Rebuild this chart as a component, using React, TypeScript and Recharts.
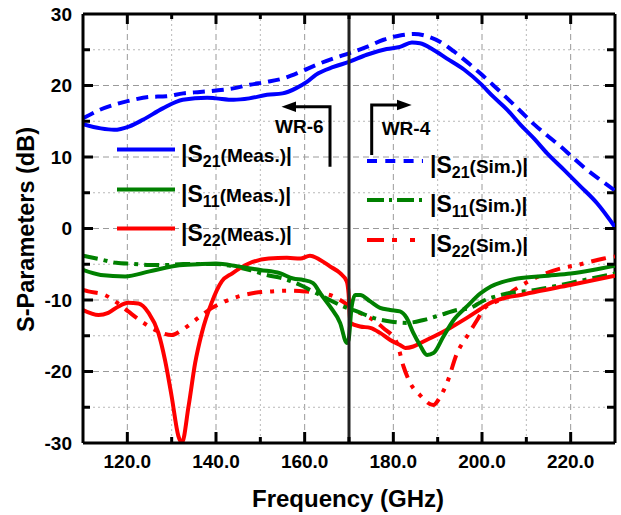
import React from 'react';
import { LineChart, Line, XAxis, YAxis, CartesianGrid, ReferenceLine, ReferenceDot } from 'recharts';

const FONT = '"Liberation Sans", Arial, Helvetica, sans-serif';

// ---- data (frequency in GHz, values in dB) ----
const s21MeasF = [110, 114, 117, 120.5, 123.5, 128, 132.5, 138, 140, 144, 147.5, 151.5, 155, 158, 160.5, 162.5, 166.5, 170, 174, 178.5, 181.5, 184.2, 186, 189, 192, 196, 199.6, 202.6, 205.7, 208.7, 211.7, 214.7, 218.5, 222.2, 226, 230];
const s21MeasDb = [14.6, 14.0, 13.8, 14.3, 15.2, 16.8, 18.0, 18.3, 18.2, 18.0, 18.2, 18.7, 18.9, 19.6, 20.5, 21.5, 22.6, 23.3, 24.3, 25.1, 25.4, 26.0, 25.9, 25.0, 23.8, 22.2, 20.3, 18.4, 16.6, 14.5, 12.6, 10.5, 8.2, 5.9, 3.5, 0.2];

const s21SimF = [110, 113.8, 117.5, 121.3, 125, 128.8, 132.6, 136.4, 140.1, 143.9, 147.6, 151.4, 155.2, 159, 162.7, 166.5, 170, 174, 177.8, 181.5, 184.7, 187.6, 190.6, 193.6, 196.6, 199.6, 202.6, 205.7, 208.7, 211.7, 214.7, 217.7, 220.7, 223.7, 226.7, 230];
const s21SimDb = [15.4, 16.6, 17.4, 18.0, 18.4, 18.5, 18.9, 19.1, 19.3, 19.6, 20.1, 20.5, 21.0, 21.9, 22.9, 23.8, 24.5, 25.4, 26.4, 27.0, 27.2, 26.9, 26.1, 24.8, 23.3, 21.7, 20.0, 18.2, 16.4, 14.6, 13.0, 11.5, 9.8, 8.2, 6.8, 5.3];

const s11MeasF = [110, 114, 119.5, 125, 131, 136, 140, 145, 150, 154.4, 157.4, 159.7, 161.9, 163.5, 165.7, 168, 169.5, 169.9, 170.6, 171.4, 172.5, 174.8, 177, 179.3, 181.5, 183, 184.5, 186, 187.6, 189.1, 191.3, 193.6, 196.6, 199.6, 202, 204.5, 208, 215, 220, 225, 230];
const s11MeasDb = [-5.8, -6.5, -6.7, -6.0, -5.2, -5.0, -4.9, -5.3, -5.8, -6.25, -7.0, -7.2, -7.65, -9.05, -10.9, -13.2, -16.0, -15.6, -10.9, -9.3, -9.3, -10.2, -11.1, -11.4, -11.6, -12.5, -14.6, -16.3, -17.7, -17.4, -15.1, -12.8, -10.9, -9.1, -8.1, -7.5, -7.0, -6.6, -6.3, -5.8, -5.2];

const s11SimF = [110, 113.8, 117.5, 121.3, 125, 128.8, 132.6, 136.4, 140.1, 143.9, 147.6, 151.4, 155.2, 159, 161.9, 164.9, 168.7, 171.8, 175.5, 179.3, 183, 186.8, 190.6, 194.4, 197.4, 200, 205, 212, 220, 230];
const s11SimDb = [-3.8, -4.3, -4.8, -4.95, -5.1, -5.1, -4.95, -4.95, -4.95, -5.3, -5.8, -6.5, -7.0, -7.9, -8.8, -9.75, -10.9, -11.6, -12.5, -13.0, -13.2, -12.8, -12.1, -11.4, -11.1, -10.2, -9.2, -8.6, -7.6, -6.3];

const s22MeasF = [110, 113.5, 115.7, 118, 120.2, 122.5, 124.8, 127, 128.5, 130, 131.5, 132.3, 133.8, 135.3, 136.8, 139, 141.3, 143.6, 147.4, 151.9, 156, 159, 161.2, 163.5, 165.7, 168, 169.5, 169.9, 170.3, 172.5, 174.8, 177, 179.3, 181.5, 182.7, 184.5, 186.8, 189.8, 192.8, 196.6, 199.6, 201.9, 204.9, 208.7, 212.4, 219.9, 230];
const s22MeasDb = [-11.4, -12.1, -11.8, -10.9, -10.4, -10.5, -11.8, -14.6, -18.4, -23.5, -29, -30, -24.9, -18.8, -14.6, -10.4, -7.4, -6.3, -4.9, -4.2, -4.1, -4.2, -3.8, -4.4, -5.3, -6.25, -7.4, -9.05, -13.2, -13.7, -13.9, -14.6, -15.6, -16.3, -16.7, -16.5, -15.8, -14.9, -13.9, -12.5, -11.3, -10.4, -9.75, -9.3, -8.8, -7.9, -6.6];

const s22SimF = [110, 111.2, 114.9, 117.5, 120.2, 123.2, 127, 130, 132.3, 136, 139.1, 142, 145.1, 148.8, 152.6, 156, 160, 165.7, 168, 171.8, 175.5, 177.7, 180.8, 182.3, 183.8, 186, 189, 190.6, 192.1, 194.4, 196.6, 198.9, 200.5, 204, 208, 213.5, 217.7, 221.5, 227.5, 230];
const s22SimDb = [-8.6, -8.8, -9.3, -10.3, -11.6, -13.0, -14.4, -14.9, -14.2, -12.5, -11.1, -10.2, -9.5, -9.0, -8.8, -8.7, -8.8, -9.3, -10.0, -11.6, -12.8, -13.9, -16.0, -19.3, -21.6, -23.3, -24.7, -23.5, -21.6, -17.4, -15.1, -12.8, -11.2, -10.0, -8.3, -6.5, -5.6, -5.1, -4.2, -3.9];

const xTicks = [120, 130, 140, 150, 160, 170, 180, 190, 200, 210, 220];
const yTicks = [-30, -25, -20, -15, -10, -5, 0, 5, 10, 15, 20, 25, 30];
const xMajorGrid = [120, 140, 160, 180, 200, 220];
const xMinorGrid = [130, 150, 190, 210];
const yMajorGrid = [-20, -10, 0, 10, 20];
const yMinorGrid = [-25, -15, -5, 5, 15, 25];
const yInnerTicks = [-25, -20, -15, -10, -5, 0, 5, 10, 15, 20, 25];

const zip = (f: number[], v: number[]) => f.map((x, i) => ({ f: x, v: v[i] }));
const s21Meas = zip(s21MeasF, s21MeasDb);
const s21Sim = zip(s21SimF, s21SimDb);
const s11Meas = zip(s11MeasF, s11MeasDb);
const s11Sim = zip(s11SimF, s11SimDb);
const s22Meas = zip(s22MeasF, s22MeasDb);
const s22Sim = zip(s22SimF, s22SimDb);

const BLUE = '#0000ff';
const GREEN = '#008000';
const RED = '#ff0000';
const DASH = '12 7';
const DASHDOT = '15 6 4 6';
const DASHDOTDOT = '15 8 4 8 4 8';

const BottomTick = (props: any) => {
  const { x, y, payload } = props;
  const v = payload.value;
  const major = v % 20 === 0;
  return (
    <g>
      <line x1={x} x2={x} y1={y} y2={y - (major ? 11 : 6)} stroke="#000" strokeWidth={3} />
      {major && (
        <text x={x} y={y + 25} textAnchor="middle" fontSize={19} fontWeight="bold" fill="#000" fontFamily={FONT}>
          {v.toFixed(1)}
        </text>
      )}
    </g>
  );
};

const LeftTick = (props: any) => {
  const { x, y, payload } = props;
  const v = payload.value;
  const major = v % 10 === 0;
  return (
    <g>
      {Math.abs(v) < 30 && <line x1={x} x2={x + (major ? 10 : 7)} y1={y} y2={y} stroke="#000" strokeWidth={3} />}
      {major && (
        <text x={x - 11} y={y} dy="0.36em" textAnchor="end" fontSize={19} fontWeight="bold" fill="#000" fontFamily={FONT}>
          {v}
        </text>
      )}
    </g>
  );
};

const TopTickShape = (major: boolean) => (p: any) => (
  <line x1={p.cx} x2={p.cx} y1={p.cy} y2={p.cy + (major ? 10 : 5)} stroke="#000" strokeWidth={3} />
);
const RightTickShape = (major: boolean) => (p: any) => (
  <line x1={p.cx} x2={p.cx - (major ? 10 : 8)} y1={p.cy} y2={p.cy} stroke="#000" strokeWidth={3} />
);

const LegendLabel = ({ x, y, sub, tag }: { x: number; y: number; sub: string; tag: string }) => (
  <text x={x} y={y} fontFamily={FONT} fontWeight="bold" fill="#000">
    <tspan fontSize={23}>|S</tspan>
    <tspan fontSize={16} dy={5}>{sub}</tspan>
    <tspan fontSize={19} dy={-5}>{`(${tag})`}</tspan>
    <tspan fontSize={21}>|</tspan>
  </text>
);

export default function App() {
  return (
    <div style={{ position: 'relative', width: 621, height: 515, background: '#fff' }}>
      <style>{`body{margin:0;}`}</style>
      <LineChart width={621} height={515} margin={{ top: 14, right: 6, bottom: 0, left: 0 }}>
        <CartesianGrid stroke="#9a9a9a" strokeDasharray="6 4" horizontalValues={yMajorGrid} verticalValues={xMajorGrid} />
        <CartesianGrid stroke="#b8b8b8" strokeDasharray="2 3" horizontalValues={yMinorGrid} verticalValues={xMinorGrid} />
        <XAxis
          type="number"
          dataKey="f"
          domain={[110, 230]}
          ticks={xTicks}
          interval={0}
          allowDataOverflow
          height={72}
          tickSize={0}
          tickMargin={0}
          tickLine={false}
          axisLine={{ stroke: '#000', strokeWidth: 3 }}
          tick={<BottomTick />}
        />
        <YAxis
          type="number"
          domain={[-30, 30]}
          ticks={yTicks}
          interval={0}
          allowDataOverflow
          width={83}
          tickSize={0}
          tickMargin={0}
          tickLine={false}
          axisLine={{ stroke: '#000', strokeWidth: 3 }}
          tick={<LeftTick />}
        />
        <ReferenceLine y={30} stroke="#000" strokeWidth={3} />
        <ReferenceLine x={230} stroke="#000" strokeWidth={3} />
        {xTicks.map((t) => (
          <ReferenceDot key={'tt' + t} x={t} y={30} ifOverflow="visible" shape={TopTickShape(t % 20 === 0)} />
        ))}
        {yInnerTicks.map((t) => (
          <ReferenceDot key={'rt' + t} x={230} y={t} ifOverflow="visible" shape={RightTickShape(t % 10 === 0)} />
        ))}
        <Line data={s22Sim} dataKey="v" type="monotone" stroke={RED} strokeWidth={4} strokeDasharray={DASHDOTDOT} dot={false} isAnimationActive={false} />
        <Line data={s11Sim} dataKey="v" type="monotone" stroke={GREEN} strokeWidth={4} strokeDasharray={DASHDOT} dot={false} isAnimationActive={false} />
        <Line data={s22Meas} dataKey="v" type="monotone" stroke={RED} strokeWidth={4} dot={false} isAnimationActive={false} />
        <Line data={s11Meas} dataKey="v" type="monotone" stroke={GREEN} strokeWidth={4} dot={false} isAnimationActive={false} />
        <Line data={s21Sim} dataKey="v" type="monotone" stroke={BLUE} strokeWidth={4} strokeDasharray={DASH} dot={false} isAnimationActive={false} />
        <Line data={s21Meas} dataKey="v" type="monotone" stroke={BLUE} strokeWidth={4} dot={false} isAnimationActive={false} />
        <ReferenceLine x={170} stroke="#222" strokeWidth={3} />
      </LineChart>
      <svg width={621} height={515} style={{ position: 'absolute', left: 0, top: 0, pointerEvents: 'none' }}>
        {/* legend, left column */}
        <line x1={117} x2={175} y1={149.5} y2={149.5} stroke={BLUE} strokeWidth={4} />
        <LegendLabel x={181} y={161.5} sub="21" tag="Meas." />
        <line x1={117} x2={175} y1={189.5} y2={189.5} stroke={GREEN} strokeWidth={4} />
        <LegendLabel x={181} y={201.5} sub="11" tag="Meas." />
        <line x1={117} x2={175} y1={228.5} y2={228.5} stroke={RED} strokeWidth={4} />
        <LegendLabel x={181} y={240.5} sub="22" tag="Meas." />
        {/* legend, right column */}
        <line x1={367} x2={423} y1={161} y2={161} stroke={BLUE} strokeWidth={4} strokeDasharray="10 8.3" />
        <LegendLabel x={430} y={173} sub="21" tag="Sim." />
        <line x1={367} x2={425} y1={200} y2={200} stroke={GREEN} strokeWidth={4} strokeDasharray="17 5 3 5" />
        <LegendLabel x={430} y={212} sub="11" tag="Sim." />
        <line x1={367} x2={421} y1={240} y2={240} stroke={RED} strokeWidth={4} strokeDasharray="17 8 5 13 5 20" />
        <LegendLabel x={430} y={252} sub="22" tag="Sim." />
        {/* WR-6 annotation */}
        <polyline points="330,166.7 330,106.7 295,106.7" fill="none" stroke="#000" strokeWidth={3} />
        <polygon points="281.5,106.7 296,101.5 296,111.9" fill="#000" />
        <text x={275} y={133.3} fontFamily={FONT} fontWeight="bold" fontSize={19} fill="#000">WR-6</text>
        {/* WR-4 annotation */}
        <polyline points="371.7,155 371.7,105 398,105" fill="none" stroke="#000" strokeWidth={3} />
        <polygon points="411.7,105 397,99.8 397,110.2" fill="#000" />
        <text x={381.7} y={135} fontFamily={FONT} fontWeight="bold" fontSize={19} fill="#000">WR-4</text>
        {/* axis titles */}
        <text x={348} y={506.5} textAnchor="middle" fontFamily={FONT} fontWeight="bold" fontSize={24} fill="#000">Frequency (GHz)</text>
        <text x={33.5} y={229.5} textAnchor="middle" transform="rotate(-90 33.5 229.5)" fontFamily={FONT} fontWeight="bold" fontSize={23.5} fill="#000">S-Parameters (dB)</text>
      </svg>
    </div>
  );
}
